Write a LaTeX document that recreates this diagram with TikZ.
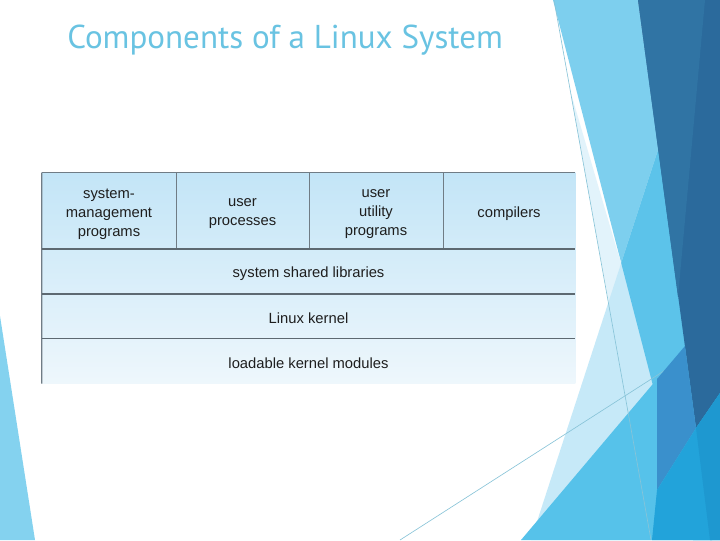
\documentclass[tikz,border=0pt]{standalone}
\usepackage{fontspec}
\setmainfont{Liberation Sans}
\newfontfamily\titlefont{PT Sans}
\definecolor{lbA}{HTML}{7DCFEE}
\definecolor{ltA}{HTML}{C6E9F8}
\definecolor{lbltA}{HTML}{5CC3EA}
\definecolor{paleA}{HTML}{E2F3FB}
\definecolor{cyA}{HTML}{56C2EA}
\definecolor{medA}{HTML}{3A90CC}
\definecolor{brA}{HTML}{22A3DA}
\definecolor{brB}{HTML}{1E98D0}
\definecolor{dkA}{HTML}{2B6A9C}
\definecolor{dkB}{HTML}{3074A4}
\definecolor{thinA}{HTML}{88C4D8}
\definecolor{leftA}{HTML}{84D2EF}
\definecolor{titleA}{HTML}{69C3E2}
\definecolor{txtA}{HTML}{1E1E1E}
\definecolor{tabTop}{HTML}{C3E5F7}
\definecolor{tabBot}{HTML}{EEF7FC}
\definecolor{gridA}{HTML}{707C85}
\definecolor{gridB}{HTML}{5D6971}
\pgfdeclarelayer{tabbg}
\pgfsetlayers{tabbg,main}
\tikzset{
  cell/.style={inner sep=0pt},
  celltext/.style={inner sep=0pt, align=center, text=txtA,
    font=\fontsize{10.5}{13.5}\selectfont},
  vline/.style={draw=gridA, line width=0.9pt},
  hline/.style={draw=gridB, line width=1.1pt},
  thinline/.style={draw=thinA, line width=0.45pt}
}
\begin{document}
\begin{tikzpicture}[x=0.025cm,y=-0.025cm]
\useasboundingbox (0,0) rectangle (720,540);
\begin{pgfonlayer}{tabbg}
\fill[white] (0,0) rectangle (720,540);
% left decoration
\fill[leftA] (0,316) -- (35,540) -- (0,540) -- cycle;
% right decoration
\fill[lbA] (553,0) -- (638,0) -- (712,540) -- (693,540) -- cycle;
\fill[paleA] (570,90) -- (617,250) -- (640,320) -- (612,320) -- cycle;
\fill[ltA] (658,150) -- (531,540) -- (720,540) -- (720,100) -- cycle;
\begin{scope}
  \clip (553,0) -- (638,0) -- (712,540) -- (693,540) -- cycle;
  \fill[lbltA] (658,150) -- (531,540) -- (720,540) -- (720,100) -- cycle;
\end{scope}
\fill[cyA] (521,540) -- (685,346) -- (720,305) -- (720,540) -- cycle;
\draw[thinline] (554,0) -- (651,540);
\draw[thinline] (400,540) -- (720,335);
\fill[dkA] (638,0) -- (720,0) -- (720,393) -- (696,428) -- cycle;
\fill[dkB] (638,0) -- (705,0) -- (678,297) -- cycle;
\fill[medA] (685,346) -- (696,428) -- (657,490) -- (657,379) -- cycle;
\fill[brA] (696,428) -- (720,393) -- (720,540) -- (652,540) -- (657,490) -- cycle;
\fill[brB] (696,428) -- (720,393) -- (720,540) -- (710,540) -- cycle;
\end{pgfonlayer}
% title
\node[anchor=base west, inner sep=0pt, text=titleA, font=\titlefont\fontsize{23.5}{28}\selectfont] (title) at (67,48) {Components of a Linux System};
% table cells (frames)
\node[cell, minimum width=3.35cm, minimum height=1.9125cm] (smp) at (109,211.25) {};
\node[cell, minimum width=3.325cm, minimum height=1.9125cm] (up) at (242.5,211.25) {};
\node[cell, minimum width=3.35cm, minimum height=1.9125cm] (uup) at (376,211.25) {};
\node[cell, minimum width=3.3cm, minimum height=1.9125cm] (comp) at (509,211.25) {};
\node[cell, minimum width=13.325cm, minimum height=1.12cm] (lib) at (308.5,271.9) {};
\node[cell, minimum width=13.325cm, minimum height=1.1175cm] (kern) at (308.5,316.65) {};
\node[cell, minimum width=13.325cm, minimum height=1.1075cm] (mods) at (308.5,361.15) {};
% cell texts
\node[celltext] (smpT) at ([yshift=-1.8pt]smp.center) {system-\\management\\programs};
\node[celltext] (upT) at ([yshift=-1.8pt]up.center) {user\\processes};
\node[celltext] (uupT) at ([yshift=-1.8pt]uup.center) {user\\utility\\programs};
\node[celltext] (compT) at ([yshift=-1.8pt]comp.center) {compilers};
\node[celltext] (libT) at ([yshift=-1.2pt]lib.center) {system shared libraries};
\node[celltext] (kernT) at ([yshift=-1.2pt]kern.center) {Linux kernel};
\node[celltext] (modsT) at ([yshift=-1.2pt]mods.center) {loadable kernel modules};
\begin{pgfonlayer}{tabbg}
\shade[top color=tabTop, bottom color=tabBot] (smp.north west) rectangle (mods.south east);
\draw[vline] (smp.north west) -- (comp.north east);
\draw[vline] (smp.north west) -- (mods.south west);
\draw[vline] (smp.north east) -- (smp.south east);
\draw[vline] (up.north east) -- (up.south east);
\draw[vline] (uup.north east) -- (uup.south east);
\draw[hline] (lib.north west) -- (lib.north east);
\draw[hline] (kern.north west) -- (kern.north east);
\draw[hline] (mods.north west) -- (mods.north east);
\end{pgfonlayer}
\end{tikzpicture}
\end{document}
